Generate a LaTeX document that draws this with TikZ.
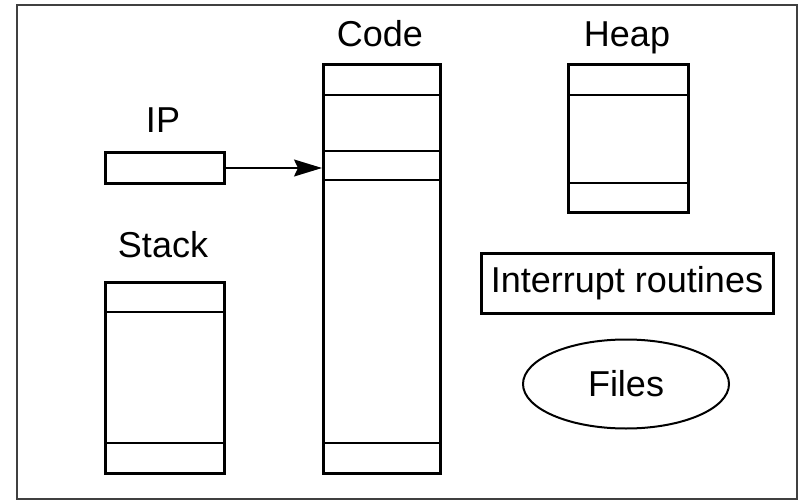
\documentclass[tikz,border=0pt]{standalone}
\usepackage{fontspec}
\setmainfont{Liberation Sans}
\usetikzlibrary{arrows.meta,shapes.geometric,calc}
\begin{document}
\begin{tikzpicture}[x=1pt,y=-1pt,
  seg/.style={draw, line width=3pt, rectangle, inner sep=0pt, anchor=north west},
  sep/.style={line width=1.5pt},
  lbl/.style={font=\fontsize{36}{42}\selectfont, inner sep=0pt, anchor=base},
  frame/.style={draw=black!75, line width=1.5pt}]
\useasboundingbox (0,0) rectangle (800,500);
\fill[white] (0,0) rectangle (800,500);
\draw[frame] (17,5) rectangle (797,499);
% IP
\node[lbl] (iplbl) at (163,132) {IP};
\node[seg, minimum width=119pt, minimum height=31pt] (ip) at (104,151) {};
% Code
\node[lbl] (codelbl) at (380,47) {Code};
\node[seg, minimum width=117pt, minimum height=409pt] (code) at (322,63) {};
\draw[sep] ($(code.north west)+(0,32)$) -- ($(code.north east)+(0,32)$);
\draw[sep] ($(code.north west)+(0,88)$) -- ($(code.north east)+(0,88)$);
\draw[sep] ($(code.north west)+(0,117)$) -- ($(code.north east)+(0,117)$);
\draw[sep] ($(code.south west)+(0,-32)$) -- ($(code.south east)+(0,-32)$);
% Heap
\node[lbl] (heaplbl) at (627,47) {Heap};
\node[seg, minimum width=120pt, minimum height=148pt] (heap) at (567,63) {};
\draw[sep] ($(heap.north west)+(0,32)$) -- ($(heap.north east)+(0,32)$);
\draw[sep] ($(heap.south west)+(0,-31)$) -- ($(heap.south east)+(0,-31)$);
% Stack
\node[lbl] (stacklbl) at (163,257) {Stack};
\node[seg, minimum width=119pt, minimum height=191pt] (stack) at (104,281) {};
\draw[sep] ($(stack.north west)+(0,31)$) -- ($(stack.north east)+(0,31)$);
\draw[sep] ($(stack.south west)+(0,-32)$) -- ($(stack.south east)+(0,-32)$);
% Interrupt routines
\node[draw, line width=3pt, minimum width=292pt, minimum height=60pt, inner sep=0pt,
      font=\fontsize{36}{42}\selectfont] (intr) at (627,283) {Interrupt routines};
% Files
\node[draw, ellipse, line width=2pt, minimum width=206pt, minimum height=89pt, inner sep=0pt,
      font=\fontsize{36}{42}\selectfont] (files) at (626,384) {Files};
% Arrow
\draw[line width=1.5pt, -{Stealth[length=28pt, width=17pt, inset=4pt]}] (ip.east) -- (ip.east -| code.west);
\end{tikzpicture}
\end{document}
